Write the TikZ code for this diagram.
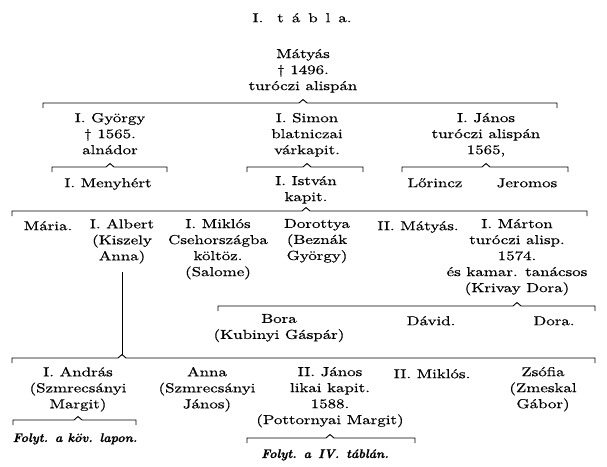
\documentclass[tikz,border=0pt]{standalone}
\usepackage{fontspec}
\newfontfamily\tablafont{lmroman10-regular.otf}[FakeStretch=1.3,FakeBold=0.5]
\newfontfamily\folytfont{lmroman10-bolditalic.otf}[FakeBold=0.6]

% ag: bal vég, szülő, jobb vég
\newcommand{\csalad}[3]{%
  \path (#2 |- #1) coordinate (csucs);
  \draw[ag] (#1) ++(0,5) -- (#1) -- ([xshift=-4pt]csucs) -- ([yshift=3.5pt]csucs)
    -- ([xshift=4pt]csucs) -- (#3) -- ++(0,5);}

\begin{document}
\begin{tikzpicture}[x=1pt,y=-1pt,
    szemely/.style={align=center,inner sep=0pt,anchor=north,yshift=11.2pt,
      execute at begin node=\strut,font=\tablafont\fontsize{13}{16}\selectfont},
    folyt/.style={inner sep=0pt,anchor=base,font=\folytfont\fontsize{12.5}{16}\selectfont},
    ag/.style={line width=0.9pt}]
\useasboundingbox (0,0) rectangle (607,466);

\node[szemely] (cim) at (302,22) {I.\hspace{14pt}t\hspace{8pt}á\hspace{8pt}b\hspace{8pt}l\hspace{8pt}a.};

% 1. nemzedek
\node[szemely] (matyas) at (303,60) {Mátyás\\† 1496.\\turóczi alispán};

% 2. nemzedek
\node[szemely] (gyorgy) at (110,124) {I. György\\† 1565.\\alnádor};
\node[szemely] (simon) at (307,124) {I. Simon\\blatniczai\\várkapit.};
\node[szemely] (janos) at (486,124) {I. János\\turóczi alispán\\1565,};

% 3. nemzedek
\node[szemely] (menyhert) at (108,187) {I. Menyhért};
\node[szemely] (istvan) at (306,187) {I. István\\kapit.};
\node[szemely] (lorincz) at (435,187) {Lőrincz};
\node[szemely] (jeromos) at (527,187) {Jeromos};

% 4. nemzedek
\node[szemely] (maria) at (48,230) {Mária.};
\node[szemely] (albert) at (122,230) {I. Albert\\(Kiszely\\Anna)};
\node[szemely] (miklos) at (218,230) {I. Miklós\\Csehországba\\költöz.\\(Salome)};
\node[szemely] (dorottya) at (317,230) {Dorottya\\(Beznák\\György)};
\node[szemely] (matyas2) at (418,230) {II. Mátyás.};
\node[szemely] (marton) at (517,230) {I. Márton\\turóczi alisp.\\1574.\\és kamar. tanácsos\\(Krivay Dora)};

% 5. nemzedek
\node[szemely] (bora) at (279,325) {Bora\\(Kubinyi Gáspár)};
\node[szemely] (david) at (431,325) {Dávid.};
\node[szemely] (dora) at (554,325) {Dora.};

% 6. nemzedek
\node[szemely] (andras) at (78,378) {I. András\\(Szmrecsányi\\Margit)};
\node[szemely] (anna) at (207,378) {Anna\\(Szmrecsányi\\János)};
\node[szemely] (janos2) at (330,378) {II. János\\likai kapit.\\1588.\\(Pottornyai Margit)};
\node[szemely] (miklos2) at (432,378) {II. Miklós.};
\node[szemely] (zsofia) at (543,378) {Zsófia\\(Zmeskal\\Gábor)};

\node[folyt] (folyt1) at (75,442) {Folyt. a köv. lapon.};
\node[folyt] (folyt2) at (325,458) {Folyt.\hspace{7pt}a\hspace{7pt}IV.\hspace{7pt}táblán.};

% agak vegpontjai
\coordinate (b1l) at (43,103);  \coordinate (b1r) at (557,103);
\coordinate (b2l) at (52,167);  \coordinate (b2r) at (167,167);
\coordinate (b3l) at (247,167); \coordinate (b3r) at (363,167);
\coordinate (b4l) at (402,167); \coordinate (b4r) at (568,167);
\coordinate (b5l) at (12,211);  \coordinate (b5r) at (587,211);
\coordinate (b6l) at (218,306); \coordinate (b6r) at (595,306);
\coordinate (b7l) at (12,358);  \coordinate (b7r) at (595,358);
\coordinate (b8l) at (13,420);  \coordinate (b8r) at (136,420);
\coordinate (b9l) at (247,438); \coordinate (b9r) at (415,438);

\csalad{b1l}{matyas}{b1r}
\csalad{b2l}{gyorgy}{b2r}
\csalad{b3l}{simon}{b3r}
\csalad{b4l}{janos}{b4r}
\csalad{b5l}{istvan}{b5r}
\csalad{b6l}{marton}{b6r}
\csalad{b7l}{albert}{b7r}
\csalad{b8l}{andras}{b8r}
\csalad{b9l}{janos2}{b9r}
\draw[ag] ([yshift=-7pt]albert.south) -- ([yshift=3.5pt]albert |- b7l);
\end{tikzpicture}
\end{document}
